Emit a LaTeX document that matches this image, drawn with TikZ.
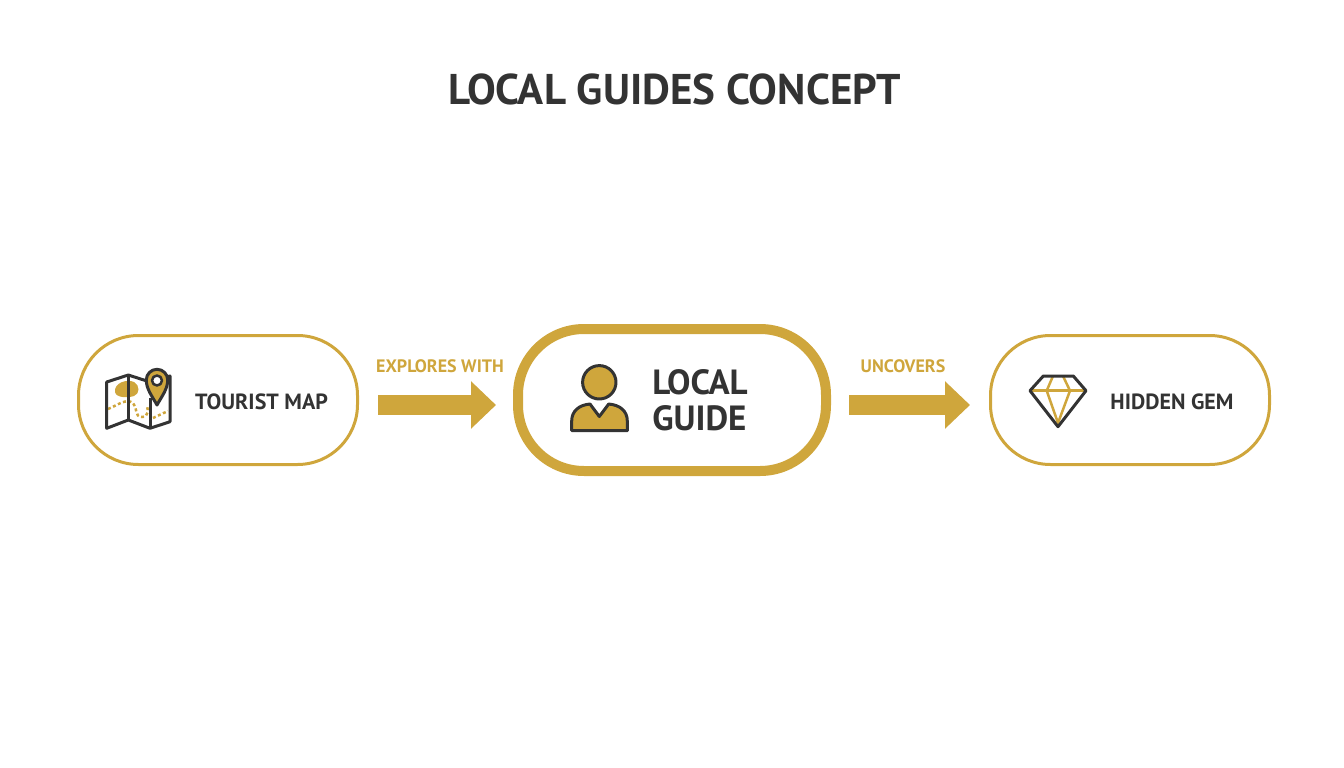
\documentclass[tikz,border=0pt]{standalone}
\usepackage{fontspec}
\setmainfont{PT Sans}
\usepackage{tikz}
\usetikzlibrary {arrows.meta,
                 positioning}
\definecolor{gold}{HTML}{CFA63C}
\definecolor{ink}{HTML}{333333}
\tikzset{
        pill/.style={draw=gold, line width=3pt, rounded corners=60pt,
                     minimum width=279pt, minimum height=129pt},
        bigpill/.style={pill, line width=10pt, rounded corners=66pt,
                     minimum width=308pt, minimum height=142pt},
        txt/.style={text=ink, font=\bfseries\fontsize{22}{22}\selectfont, inner sep=0pt},
        bigtxt/.style={txt, align=left, font=\bfseries\fontsize{35}{36}\selectfont},
        lbl/.style={text=gold, font=\bfseries\fontsize{18}{18}\selectfont, inner sep=0pt},
        myarrow/.style={-{Triangle[length=25pt, width=46pt]}, draw=gold, line width=20pt},
        icon/.style={draw=ink, line width=3pt, line join=round},
        iconfill/.style={icon, fill=gold},
        facet/.style={draw=gold, line width=2.5pt},
 }
\begin{document}
\begin{tikzpicture}[x=1pt, y=-1pt]
    \useasboundingbox (0,0) rectangle (1344,768);

    \node[txt, font=\bfseries\fontsize{43}{43}\selectfont] (title) at (675,89) {LOCAL GUIDES CONCEPT};

    \node[bigpill] (guide) at (672,400) {};
    \node[pill, left=154pt of guide] (map) {};
    \node[pill, right=158pt of guide] (gem) {};

    \node[txt] (maptext) at (261.5,402) {TOURIST MAP};
    \node[bigtxt] (guidetext) at (700,400) {LOCAL\\GUIDE};
    \node[txt] (gemtext) at (1172,402) {HIDDEN GEM};

    \draw[myarrow, shorten <=19pt, shorten >=17pt] ([yshift=-5pt]map.east) -- node[lbl, above=22.5pt, xshift=4pt] (explores) {EXPLORES WITH} ([yshift=-5pt]guide.west);
    \draw[myarrow, shorten <=18pt, shorten >=19pt] ([yshift=-5pt]guide.east) -- node[lbl, above=22.5pt, xshift=-7pt] (uncovers) {UNCOVERS} ([yshift=-5pt]gem.west);

    % map icon
    \fill[gold] (115,392) .. controls (114,382) and (128,379) .. (134,382) .. controls (140,385) and (140,394) .. (134,396) .. controls (128,398) and (116,398) .. (115,392) -- cycle;
    \draw[gold, line width=2.5pt, dash pattern=on 3pt off 2.5pt] (108,409) .. controls (118,405) and (126,398) .. (133,403) .. controls (138,408) and (134,417) .. (142,417) .. controls (149,417) and (148,409) .. (147,406);
    \draw[gold, line width=2.5pt, dash pattern=on 3pt off 2.5pt] (153,418) -- (168,411);
    \draw[icon] (106.7,382) -- (128.3,375) -- (150,382) -- (170,376) -- (170,421.7) -- (150,428.3) -- (128.3,420) -- (106.7,428.3) -- cycle;
    \draw[icon] (128.3,375) -- (128.3,420);
    \draw[icon] (150,398) -- (150,428.3);
    \draw[iconfill] (157,405) .. controls (152,396) and (146.3,389) .. (146.3,380) arc[start angle=180, end angle=360, radius=10.7] .. controls (167.7,389) and (162,396) .. cycle;
    \draw[icon, fill=white, line width=2.5pt] (157,380.5) circle[radius=5];

    % person icon
    \draw[iconfill] (599.3,382.3) circle[radius=16.7];
    \draw[iconfill] (571.7,430.7) -- (571.7,421) .. controls (571.7,411) and (579,405) .. (590,404) -- (599.3,416.5) -- (608.7,404) .. controls (620,405) and (627.3,411) .. (627.3,421) -- (627.3,430.7) -- cycle;

    % gem icon
    \draw[facet] (1030,390.7) -- (1086,390.7);
    \draw[facet] (1052.7,376.7) -- (1046.7,390.7) -- (1058,423) -- (1070,390.7) -- (1063.3,376.7);
    \draw[icon] (1030,390.7) -- (1043.3,376) -- (1073.3,376) -- (1086,390.7) -- (1058,426.7) -- cycle;
\end{tikzpicture}
\end{document}
